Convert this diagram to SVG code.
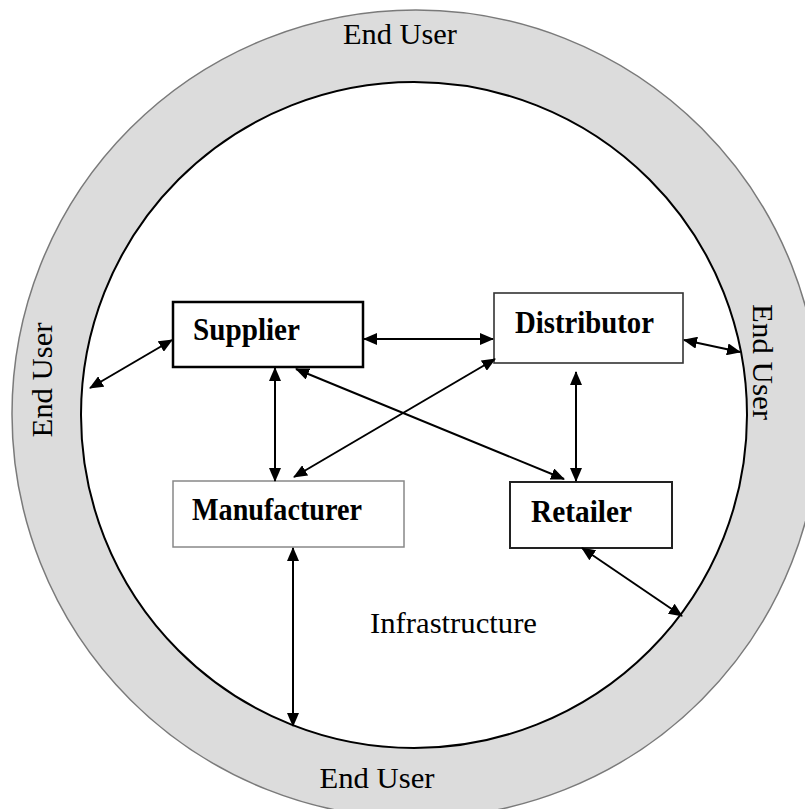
<svg xmlns="http://www.w3.org/2000/svg" width="805" height="809" viewBox="0 0 805 809">
<style>
.lbl{font-family:"Liberation Serif","Times New Roman",serif;font-weight:bold;font-size:31px;fill:#000}
.eu{font-family:"Liberation Serif","Times New Roman",serif;font-size:30px;fill:#000}
.con line{stroke:#000;stroke-width:2;marker-start:url(#ah);marker-end:url(#ah)}
.box{fill:#fff}
</style>
<defs>
<marker id="ah" viewBox="0 0 14 12" refX="13" refY="6" markerWidth="14" markerHeight="12" markerUnits="userSpaceOnUse" orient="auto-start-reverse">
<path d="M0,0 L14,6 L0,12 z" fill="#000"/>
</marker>
</defs>
<rect width="805" height="809" fill="#fff"/>
<g id="ring">
<circle cx="416" cy="414" r="404" fill="#dcdcdc" stroke="#7a7a7a" stroke-width="1.5"/>
<circle cx="414" cy="415" r="333" fill="#fff" stroke="#000" stroke-width="2"/>
</g>
<g id="endusers">
<text class="eu" x="400" y="44" text-anchor="middle" textLength="114" lengthAdjust="spacingAndGlyphs">End User</text>
<text class="eu" x="377" y="788" text-anchor="middle" textLength="115" lengthAdjust="spacingAndGlyphs">End User</text>
<text class="eu" transform="translate(52,380) rotate(-90)" text-anchor="middle" textLength="115" lengthAdjust="spacingAndGlyphs">End User</text>
<text class="eu" transform="translate(753,362) rotate(90)" text-anchor="middle" textLength="116" lengthAdjust="spacingAndGlyphs">End User</text>
</g>
<g id="supplier">
<rect class="box" x="173" y="302" width="190" height="65" stroke="#000" stroke-width="2.5"/>
<text class="lbl" x="193" y="340" textLength="107" lengthAdjust="spacingAndGlyphs">Supplier</text>
</g>
<g id="distributor">
<rect class="box" x="494" y="293" width="189" height="70" stroke="#333" stroke-width="1.6"/>
<text class="lbl" x="515" y="333" textLength="139" lengthAdjust="spacingAndGlyphs">Distributor</text>
</g>
<g id="manufacturer">
<rect class="box" x="173" y="481" width="231" height="66" stroke="#888" stroke-width="1.5"/>
<text class="lbl" x="192" y="520" textLength="170" lengthAdjust="spacingAndGlyphs">Manufacturer</text>
</g>
<g id="retailer">
<rect class="box" x="510" y="482" width="162" height="66" stroke="#222" stroke-width="2"/>
<text class="lbl" x="531" y="522" textLength="101" lengthAdjust="spacingAndGlyphs">Retailer</text>
</g>
<g id="infrastructure">
<text class="eu" x="370" y="633" textLength="167" lengthAdjust="spacingAndGlyphs">Infrastructure</text>
</g>
<g id="connectors" class="con">
<line x1="90" y1="388" x2="172" y2="340"/>
<line x1="364" y1="339" x2="493" y2="339"/>
<line x1="275" y1="368" x2="275" y2="481"/>
<line x1="296" y1="369" x2="564" y2="479"/>
<line x1="495" y1="359" x2="294" y2="477"/>
<line x1="576" y1="372" x2="576" y2="481"/>
<line x1="684" y1="340" x2="740" y2="352"/>
<line x1="582" y1="548" x2="682" y2="616"/>
<line x1="293" y1="548" x2="293" y2="726"/>
</g>
</svg>
